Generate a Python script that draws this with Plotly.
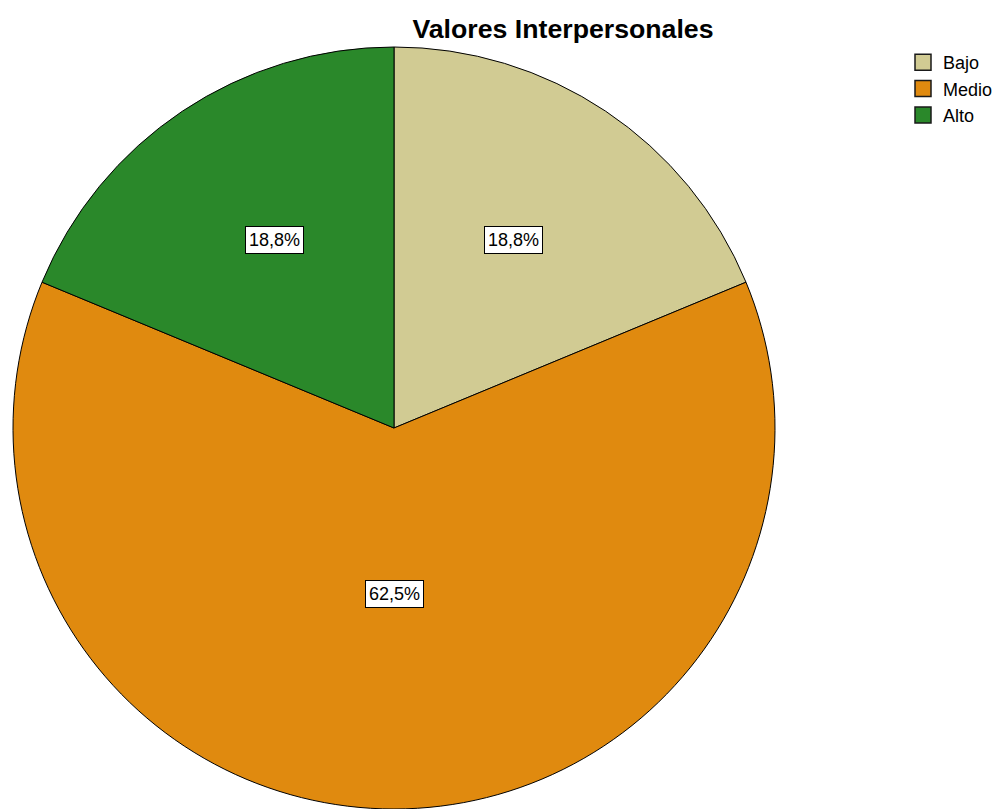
import math
import plotly.graph_objects as go

# Datos del gráfico
categorias = ["Bajo", "Medio", "Alto"]
porcentajes = [18.75, 62.5, 18.75]
colores = ["#D1CB93", "#E08A0F", "#2A882A"]

W, H = 1004, 809
FONT = "Liberation Sans, Arial, sans-serif"
OFF = 8  # margen por defecto del <body> en la página

# dominio del pie (centro ~ (394, 428) px en pantalla, radio ~381 px)
dom_x = [(13 - OFF) / W, (775 - OFF) / W]
dom_y = [OFF / H, (762 + OFF) / H]

fig = go.Figure()

fig.add_trace(go.Pie(
    labels=categorias,
    values=porcentajes,
    sort=False,
    direction="clockwise",
    rotation=0,
    marker=dict(colors=colores, line=dict(color="#000000", width=1)),
    textinfo="none",
    hoverinfo="label+percent",
    showlegend=False,
    domain=dict(x=dom_x, y=dom_y),
))

# entradas de leyenda (cuadros más grandes que los del pie)
for cat, col in zip(categorias, colores):
    fig.add_trace(go.Scatter(
        x=[None], y=[None], mode="markers", name=cat,
        marker=dict(symbol="square", size=16, color=col,
                    line=dict(color="#1a1a1a", width=1.5)),
        hoverinfo="skip",
    ))

# etiquetas con recuadro blanco, colocadas a partir de los ángulos de cada sector
cx = (dom_x[0] + dom_x[1]) / 2 * W
cy = (dom_y[0] + dom_y[1]) / 2 * H
r = (dom_y[1] - dom_y[0]) * H / 2
total = sum(porcentajes)
inicio = 0.0
for cat, v in zip(categorias, porcentajes):
    ang = v / total * 2 * math.pi
    medio = inicio + ang / 2
    a = ang / 2
    centroide = 2 * math.sin(a) / (3 * a)
    d = r * (centroide + 0.56) / 2
    px_x = cx + d * math.sin(medio) * 0.95
    px_y = cy + d * math.cos(medio)
    texto = f"{v / total * 100:.1f}%".replace(".", ",")
    fig.add_annotation(
        x=px_x / W, y=px_y / H, xref="paper", yref="paper",
        xanchor="center", yanchor="middle",
        text=texto, showarrow=False,
        font=dict(family=FONT, size=18, color="#000000"),
        bgcolor="#FFFFFF", bordercolor="#000000", borderwidth=1, borderpad=3,
    )
    inicio += ang

fig.update_layout(
    width=W, height=H,
    margin=dict(l=0, r=0, t=0, b=0),
    paper_bgcolor="#FFFFFF",
    plot_bgcolor="#FFFFFF",
    font=dict(family=FONT, color="#000000"),
    title=dict(
        text="<b>Valores Interpersonales</b>",
        x=(563 - OFF) / W, xanchor="center",
        y=1 - (29 - OFF) / H, yanchor="middle",
        font=dict(family=FONT, size=26.7, color="#000000"),
    ),
    legend=dict(
        x=(903 - OFF) / W, y=1 - (44 - OFF) / H, xanchor="left", yanchor="top",
        font=dict(family=FONT, size=18, color="#000000"),
        itemsizing="trace",
        bgcolor="rgba(0,0,0,0)",
    ),
    xaxis=dict(visible=False),
    yaxis=dict(visible=False),
)

fig.write_html("out.html")
